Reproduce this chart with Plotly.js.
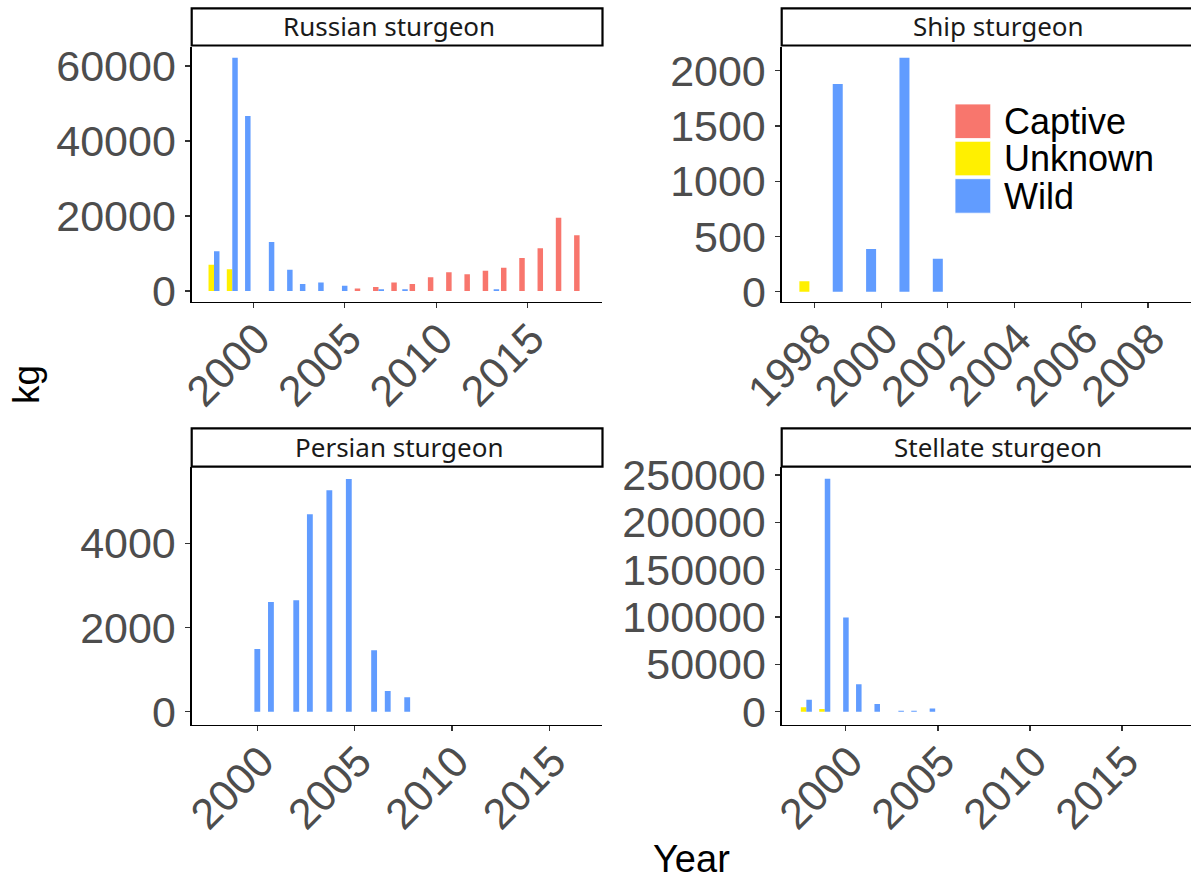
<!DOCTYPE html>
<html>
<head>
<meta charset="utf-8">
<script src="https://cdn.plot.ly/plotly-3.0.1.min.js"></script>
<style>
html,body{margin:0;padding:0;background:#fff;overflow:hidden;}
#chart{width:1191px;height:880px;}
</style>
</head>
<body>
<div id="chart"></div>
<script>
// ---- Categories / colours ----
const sources = ["Captive", "Unknown", "Wild"];
const sourceColors = ["#F8766D", "#FFF000", "#619CFF"];
const species = ["Russian sturgeon", "Ship sturgeon", "Persian sturgeon", "Stellate sturgeon"];

// ---- Russian sturgeon (kg) ----
const rusCaptiveYears = [2006, 2007, 2008, 2009, 2010, 2011, 2012, 2013, 2014, 2015, 2016, 2017, 2018];
const rusCaptiveKg    = [700, 1070, 2300, 1870, 3640, 4980, 4440, 5420, 6220, 8800, 11380, 19560, 14840];
const rusUnknownYears = [1998, 1999];
const rusUnknownKg    = [7000, 5800];
const rusWildYears1   = [2000, 2003, 2004];
const rusWildKg1      = [46700, 1900, 2300];
const rusWildYears2   = [1998, 1999, 2001, 2002, 2005, 2007];
const rusWildKg2      = [10600, 62200, 13100, 5700, 1400, 500];
const rusWildYears3   = [2008, 2013];
const rusWildKg3      = [500, 500];

// ---- Ship sturgeon (kg) ----
const shipUnknownYears = [1998];
const shipUnknownKg    = [95];
const shipWildYears1   = [1999, 2000, 2001, 2002];
const shipWildKg1      = [1880, 386, 2118, 299];

// ---- Persian sturgeon (kg) ----
const perWildYears1 = [2001, 2003, 2004, 2005, 2007, 2008];
const perWildKg1    = [2606, 4689, 5259, 5528, 491, 341];
const perWildYears2 = [2000, 2002, 2006];
const perWildKg2    = [1490, 2645, 1457];

// ---- Stellate sturgeon (kg) ----
const steUnknownYears = [1998, 1999];
const steUnknownKg    = [4600, 2800];
const steWildYears1   = [2001, 2002, 2004, 2005];
const steWildKg1      = [29000, 8100, 1000, 3500];
const steWildYears2   = [1998, 1999, 2000, 2003];
const steWildKg2      = [12500, 246000, 99500, 1000];

// ---- Tick settings ----
const yTickStep = [20000, 500, 2000, 50000];
const xTickStep = [5, 2, 5, 5];
const xTick0    = [2000, 1998, 2000, 2000];

// dodge slots: 3 positions per year, width 0.3 each
const slotOffset = [-0.45, -0.15, 0.15];
const barWidth = 0.3;

function bar(x, y, src, slot, axisIdx) {
  const s = axisIdx === 1 ? "" : String(axisIdx);
  return {
    type: "bar", x: x, y: y, name: sources[src],
    marker: {color: sourceColors[src], line: {width: 0}},
    width: barWidth, offset: slotOffset[slot],
    xaxis: "x" + s, yaxis: "y" + s, showlegend: false,
    hovertemplate: "%{x}: %{y} kg<extra>" + sources[src] + "</extra>"
  };
}

const traces = [
  bar(rusCaptiveYears, rusCaptiveKg, 0, 0, 1),
  bar(rusUnknownYears, rusUnknownKg, 1, 0, 1),
  bar(rusWildYears1, rusWildKg1, 2, 0, 1),
  bar(rusWildYears2, rusWildKg2, 2, 1, 1),
  bar(rusWildYears3, rusWildKg3, 2, 2, 1),
  bar(shipUnknownYears, shipUnknownKg, 1, 0, 2),
  bar(shipWildYears1, shipWildKg1, 2, 0, 2),
  bar(perWildYears1, perWildKg1, 2, 0, 3),
  bar(perWildYears2, perWildKg2, 2, 1, 3),
  bar(steUnknownYears, steUnknownKg, 1, 0, 4),
  bar(steWildYears1, steWildKg1, 2, 0, 4),
  bar(steWildYears2, steWildKg2, 2, 1, 4)
];

const W = 1191, H = 880;
const px = v => v / W;
const py = v => 1 - v / H;

const colDom = [[px(191.7), px(601.7)], [px(781.7), 1]];
const rowDom = [[py(301.7), py(46.5)], [py(724.5), py(466.7)]];
const xRanges = [[1996.63, 2019.06], [1997.02, 2009.29], [1996.63, 2017.69], [1996.51, 2018.75]];
const yRanges = [[-2853, 65200], [-90, 2219], [-304, 5819], [-13522, 258800]];

const tickFont = {family: "Liberation Sans, Arial, sans-serif", size: 43, color: "#4D4D4D"};

const layout = {
  width: W, height: H,
  margin: {l: 0, r: 0, t: 0, b: 0},
  paper_bgcolor: "#fff", plot_bgcolor: "#fff",
  barmode: "overlay",
  showlegend: false,
  shapes: [], annotations: []
};

for (let i = 0; i < 4; i++) {
  const s = i === 0 ? "" : String(i + 1);
  const col = i % 2, row = Math.floor(i / 2);
  const common = {
    showline: true, linecolor: "#000", linewidth: 1.3,
    ticks: "outside", ticklen: 5, tickwidth: 1.1, tickcolor: "#333",
    showgrid: false, zeroline: false, tickfont: tickFont, automargin: false, fixedrange: true
  };
  layout["xaxis" + s] = Object.assign({}, common, {
    domain: colDom[col], anchor: "y" + s, range: xRanges[i],
    tickmode: "linear", tick0: xTick0[i], dtick: xTickStep[i], tickangle: -45, tickformat: "d",
    ticklabelstandoff: -12, ticklabelshift: 4
  });
  layout["yaxis" + s] = Object.assign({}, common, {
    domain: rowDom[row], anchor: "x" + s, range: yRanges[i],
    tickmode: "linear", tick0: 0, dtick: yTickStep[i], tickformat: "d",
    ticklabelstandoff: 1
  });
}

// facet strips
const stripY = [[8.3, 45.5], [428.3, 466.7]];
const stripX = [[191.7, 602.5], [781.7, 1200]];
const stripTextX = [389, 998, 399, 998];
for (let i = 0; i < 4; i++) {
  const col = i % 2, row = Math.floor(i / 2);
  layout.shapes.push({
    type: "rect", xref: "paper", yref: "paper",
    x0: px(stripX[col][0]), x1: px(stripX[col][1]),
    y0: py(stripY[row][1]), y1: py(stripY[row][0]),
    line: {color: "#000", width: 2.2}, fillcolor: "#fff", layer: "above"
  });
  layout.annotations.push({
    xref: "paper", yref: "paper", x: px(stripTextX[i]), y: py((stripY[row][0] + stripY[row][1]) / 2 - 1),
    xanchor: "center", yanchor: "middle", showarrow: false, text: species[i],
    font: {family: "Noto Sans, Open Sans, sans-serif", size: 26, color: "#1A1A1A"}
  });
}

// legend (drawn inside Ship sturgeon panel)
const legKeyTop = [104, 141.3, 178.7];
for (let k = 0; k < sources.length; k++) {
  layout.shapes.push({
    type: "rect", xref: "paper", yref: "paper",
    x0: px(955), x1: px(990.7), y0: py(legKeyTop[k] + 34.5), y1: py(legKeyTop[k]),
    line: {width: 0.8, color: "#fff"}, fillcolor: sourceColors[k], layer: "above"
  });
  layout.annotations.push({
    xref: "paper", yref: "paper", x: px(1002), y: py(legKeyTop[k] + 17.5),
    xanchor: "left", yanchor: "middle", showarrow: false, text: sources[k],
    font: {family: "Liberation Sans, Arial, sans-serif", size: 36, color: "#000"}
  });
}

// axis titles
layout.annotations.push({
  xref: "paper", yref: "paper", x: px(26), y: py(385), xanchor: "center", yanchor: "middle",
  showarrow: false, text: "kg", textangle: -90,
  font: {family: "Liberation Sans, Arial, sans-serif", size: 37, color: "#000"}
});
layout.annotations.push({
  xref: "paper", yref: "paper", x: px(691), y: py(859), xanchor: "center", yanchor: "middle",
  showarrow: false, text: "Year",
  font: {family: "Liberation Sans, Arial, sans-serif", size: 38, color: "#000"}
});

Plotly.newPlot("chart", traces, layout, {displayModeBar: false, staticPlot: true});
</script>
</body>
</html>
